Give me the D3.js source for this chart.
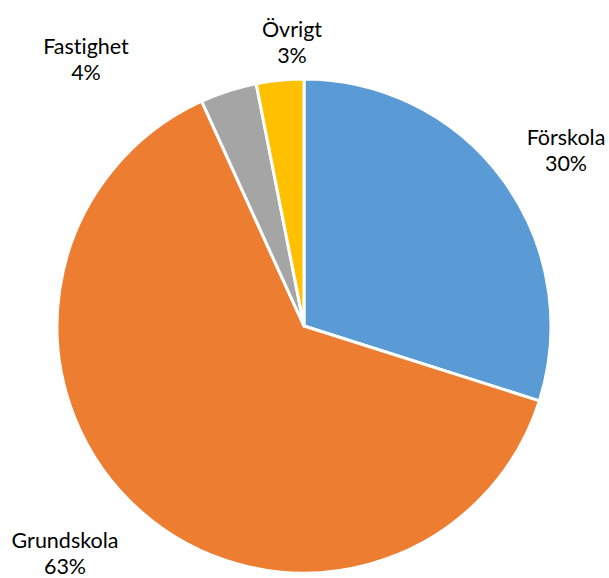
<!DOCTYPE html>
<html><head><meta charset="utf-8">
<script src="https://cdn.jsdelivr.net/npm/d3@7"></script>
<style>html,body{margin:0;padding:0;background:#fff;} text{font-variant-ligatures:none;font-feature-settings:"liga" 0;}</style>
</head><body>
<svg id="chart" width="609" height="578"></svg>
<script>
const categories = ["Förskola", "Grundskola", "Fastighet", "Övrigt"];
const values = [29.9, 63.3, 3.7, 3.1];
const colors = ["#5B9BD5", "#ED7D31", "#A5A5A5", "#FFC000"];
// label anchor positions (centre x, first-line baseline)
const labelPos = [[566, 145], [65, 548], [86, 54], [292, 37]];

const svg = d3.select("#chart");
const cx = 304, cy = 326, r = 247;
const g = svg.append("g").attr("transform", `translate(${cx},${cy})`);
const pie = d3.pie().sort(null).value(d => d)(values);
const arc = d3.arc().innerRadius(0).outerRadius(r);
const total = d3.sum(values);
const fmt = d3.format(".0%");

g.selectAll("path").data(pie).join("path")
  .attr("d", arc)
  .attr("fill", (d, i) => colors[i])
  .attr("stroke", "#fff")
  .attr("stroke-width", 3)
  .attr("stroke-linejoin", "round");

const lab = svg.selectAll("text.lab").data(pie).join("text")
  .attr("class", "lab")
  .attr("text-anchor", "middle")
  .attr("font-family", "Lato, 'Open Sans', sans-serif")
  .attr("font-size", 21.5)
  .attr("fill", "#000")
  .attr("x", (d, i) => labelPos[i][0])
  .attr("y", (d, i) => labelPos[i][1]);
lab.append("tspan").attr("x", (d, i) => labelPos[i][0]).text((d, i) => categories[i]);
lab.append("tspan").attr("x", (d, i) => labelPos[i][0]).attr("dy", 26).text(d => fmt(d.data / total));
</script>
</body></html>
